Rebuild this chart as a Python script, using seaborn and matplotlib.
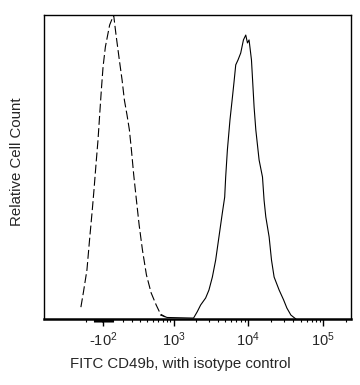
import numpy as np
import pandas as pd
import matplotlib
matplotlib.use("Agg")
import matplotlib.pyplot as plt
import seaborn as sns

# ---- data (FITC intensity, relative count in % of max) ----
iso_x = [-378, -340, -292, -258, -224, -204, -181, -158, -140, -122, -104, -80, -37, 3,
         27, 60, 88, 112, 140, 166, 189, 216, 249, 284, 329, 388, 465, 559, 650, 764]
iso_y = [3.9, 8.9, 16.1, 26.0, 35.9, 42.4, 50.7, 58.9, 67.1, 75.3, 82.9, 89.5, 96.7, 100,
         93.4, 85.2, 78.6, 72.0, 67.1, 62.2, 55.6, 47.4, 39.1, 30.9, 22.7, 14.5, 8.6, 4.6, 1.6, 0.7]

cd_x = [650, 810, 1875, 2103, 2334, 2723, 3013, 3350, 3708, 4100, 4550, 4890, 5040, 5310,
        5750, 6200, 6510, 6860, 7350, 7990, 8680, 9320, 9820, 10310, 10630, 11100, 12030,
        12680, 14020, 15550, 16320, 17210, 19050, 20480, 22190, 25900, 29640, 32800, 37050, 43200]
cd_y = [1.3, 0.5, 0.3, 2.4, 4.6, 6.9, 9.5, 13.8, 19.4, 27.0, 34.9, 40.1, 46.7, 55.6,
        65.5, 73.0, 78.0, 83.6, 85.2, 87.5, 91.8, 93.4, 90.8, 91.8, 89.1, 85.2, 69.7,
        62.2, 52.3, 46.7, 39.1, 33.6, 27.0, 19.4, 13.8, 9.5, 6.3, 3.6, 1.3, 0.0]

major_ticks = [-100, 1000, 10000, 100000]
major_labels = [r"-$\mathregular{10^{2}}$", r"$\mathregular{10^{3}}$",
                r"$\mathregular{10^{4}}$", r"$\mathregular{10^{5}}$"]
xlabel = "FITC CD49b, with isotype control"
ylabel = "Relative Cell Count"

sns.set_style("white")
plt.rcParams["font.family"] = ["Liberation Sans", "DejaVu Sans"]
plt.rcParams["mathtext.fontset"] = "custom"
plt.rcParams["mathtext.rm"] = "Liberation Sans"
plt.rcParams["mathtext.default"] = "regular"

W = 325.0
def fwd(x):
    return np.arcsinh(np.asarray(x, dtype=float) / W)
def inv(y):
    return W * np.sinh(np.asarray(y, dtype=float))

fig = plt.figure(figsize=(3.6, 3.85), dpi=100)
ax = fig.add_axes([44 / 360, 1 - 319 / 385, (351 - 44) / 360, (319 - 15) / 385])
ax.set_xscale("function", functions=(fwd, inv))

iso = pd.DataFrame({"x": iso_x, "y": iso_y})
cd = pd.DataFrame({"x": cd_x, "y": cd_y})
sns.lineplot(data=iso, x="x", y="y", ax=ax, color="black", lw=0.8,
             sort=False, estimator=None).lines[-1].set_dashes((8, 3))
sns.lineplot(data=cd, x="x", y="y", ax=ax, color="black", lw=0.8, sort=False, estimator=None)

ax.set_xlim(-1335, 233000)
ax.set_ylim(0, 100)

minor = [-300, -200] + list(range(-190, 0, 10)) + list(range(0, 1000, 100)) \
    + list(range(2000, 10000, 1000)) + list(range(20000, 100000, 10000)) + [200000]
ax.set_xticks(major_ticks)
ax.set_xticklabels(major_labels, fontsize=10.5)
ax.set_xticks(minor, minor=True)
ax.tick_params(axis="x", which="major", length=5, width=1, color="black", pad=3, bottom=True)
ax.tick_params(axis="x", which="minor", length=2.5, width=0.8, color="black", bottom=True)
ax.set_yticks([])

for s in ["left", "right", "top"]:
    ax.spines[s].set_color("black")
    ax.spines[s].set_linewidth(1.0)
ax.spines["bottom"].set_color("black")
ax.spines["bottom"].set_linewidth(1.8)

ax.set_xlabel(xlabel, fontsize=10.8)
ax.xaxis.set_label_coords(0.443, -0.125)
ax.set_ylabel(ylabel, fontsize=10.8)
ax.yaxis.set_label_coords(-0.066, 0.516)

fig.savefig("out.png", dpi=100)
